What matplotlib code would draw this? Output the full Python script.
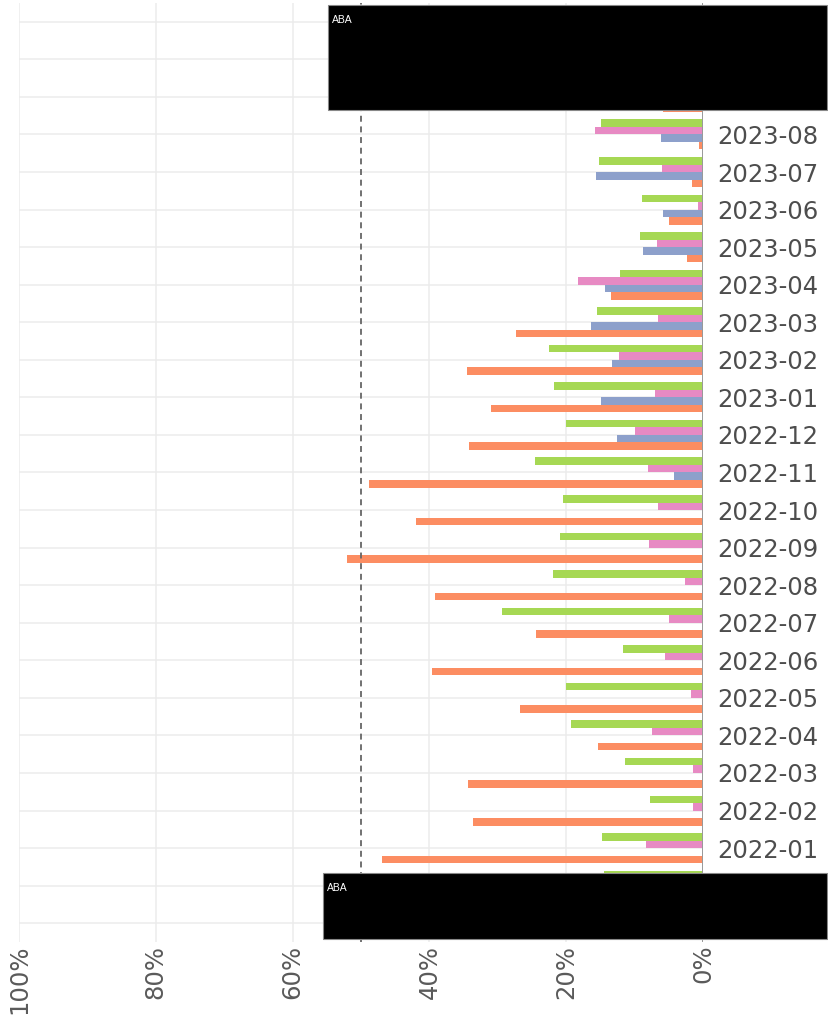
import numpy as np
import matplotlib
matplotlib.use("Agg")
import matplotlib.pyplot as plt
from matplotlib.patches import Rectangle

nan = np.nan
months = ["2021-11", "2021-12",
          "2022-01", "2022-02", "2022-03", "2022-04", "2022-05", "2022-06",
          "2022-07", "2022-08", "2022-09", "2022-10", "2022-11", "2022-12",
          "2023-01", "2023-02", "2023-03", "2023-04", "2023-05", "2023-06",
          "2023-07", "2023-08", "2023-09", "2023-10", "2023-11"]

green = [nan, 14.5,
         14.7, 7.7, 11.4, 19.3, 20.1, 11.7, 29.4, 21.9, 20.9, 20.4, 24.5, 20.1,
         21.8, 22.5, 15.5, 12.1, 9.2, 8.9, 15.2, 14.9, nan, nan, nan]
pink = [nan, nan,
        8.3, 1.5, 1.5, 7.4, 1.7, 5.5, 5.0, 2.6, 7.9, 6.6, 8.1, 9.9,
        7.0, 12.3, 6.6, 18.3, 6.7, 0.7, 6.0, 15.8, nan, nan, nan]
blue = [nan, nan,
        nan, nan, nan, nan, nan, nan, nan, nan, nan, nan, 4.2, 12.6,
        14.9, 13.3, 16.4, 14.3, 8.7, 5.8, 15.7, 6.1, nan, nan, nan]
orange = [37.0, nan,
          47.0, 33.6, 34.3, 15.4, 26.7, 39.6, 24.4, 39.2, 52.0, 42.0, 48.8, 34.2,
          31.0, 34.5, 27.4, 13.5, 2.4, 5.0, 1.6, 0.6, 5.8, nan, nan]

series = [(green, "#a6d854"), (pink, "#e78ac3"), (blue, "#8da0cb"), (orange, "#fc8d62")]
offsets = [0.3, 0.1, -0.1, -0.3]
xticks = [100, 80, 60, 40, 20, 0]
xticklabels = ["100%", "80%", "60%", "40%", "20%", "0%"]
threshold = 50

W, H = 829, 1023
fig = plt.figure(figsize=(W / 100, H / 100), dpi=100)
ax = fig.add_axes([19 / W, 1 - 942 / H, (703 - 19) / W, (942 - 3) / H])

y = np.arange(len(months))
for (vals, col), off in zip(series, offsets):
    v = np.array(vals, dtype=float)
    m = ~np.isnan(v)
    ax.barh(y[m] + off, v[m], height=0.2, color=col, zorder=3, linewidth=0)

ax.set_xlim(100, 0)
ax.set_ylim(-0.5, len(months) - 0.5)
ax.set_xticks(xticks)
ax.set_xticklabels(xticklabels, rotation=90, fontsize=17.5, color="#5a5a5a")
ax.set_yticks(y)
ax.set_yticklabels(months, fontsize=17.5, color="#4d4d4d")
ax.yaxis.tick_right()
ax.tick_params(axis="y", length=0, pad=10.5)
ax.tick_params(axis="x", length=0, pad=2)
for s in ax.spines.values():
    s.set_visible(False)
ax.grid(True, color="#ececec", linewidth=1.1, zorder=0)
ax.set_axisbelow(True)

ax.axvline(0, color="#999999", linewidth=1.4, zorder=5)
ax.axvline(threshold, color="#666666", linewidth=1.3, linestyle=(0, (3.3, 2.6)), zorder=4)

def box(x0, y0, x1, y1):
    fig.add_artist(Rectangle((x0 / W, 1 - y1 / H), (x1 - x0) / W, (y1 - y0) / H,
                             transform=fig.transFigure, facecolor="black",
                             edgecolor="#888888", linewidth=0.8, zorder=20))
    fig.text((x0 + 4) / W, 1 - (y0 + 10) / H, "ABA", color="white", fontsize=7.5,
             family="Liberation Sans", ha="left", va="top", zorder=21)

box(328, 5, 827, 110)
box(323, 873, 827, 939)

fig.savefig("out.png", dpi=100)
